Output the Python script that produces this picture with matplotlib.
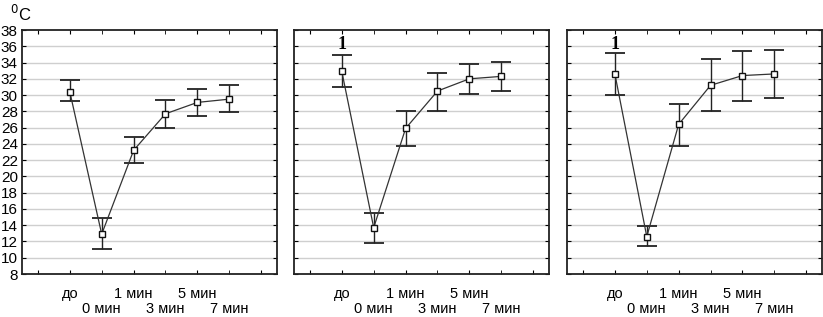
import numpy as np
import matplotlib
matplotlib.use('Agg')
import matplotlib.pyplot as plt

plt.rcParams['font.family'] = ['Liberation Sans', 'DejaVu Sans']

# time points (x index 0..5)
labels = ['до', '0 мин', '1 мин', '3 мин', '5 мин', '7 мин']

# panel 1
mean1 = [30.4, 12.9, 23.2, 27.7, 29.1, 29.5]
upper1 = [31.8, 14.9, 24.9, 29.4, 30.7, 31.2]
lower1 = [29.3, 11.1, 21.6, 25.9, 27.4, 27.9]

# panel 2
mean2 = [32.9, 13.7, 25.9, 30.5, 32.0, 32.3]
upper2 = [34.9, 15.5, 28.0, 32.7, 33.8, 34.1]
lower2 = [31.0, 11.8, 23.8, 28.1, 30.1, 30.5]

# panel 3
mean3 = [32.6, 12.6, 26.4, 31.2, 32.4, 32.6]
upper3 = [35.2, 13.9, 28.9, 34.4, 35.4, 35.6]
lower3 = [30.0, 11.4, 23.8, 28.1, 29.3, 29.6]

panels = [(mean1, upper1, lower1, None),
          (mean2, upper2, lower2, '1'),
          (mean3, upper3, lower3, '1')]

fig = plt.figure(figsize=(8.23, 3.17), dpi=100)
lefts = [0.0267, 0.3572, 0.689]
width = 0.31
bottom, height = 0.1356, 0.7697

x = np.arange(len(labels))
for i, (m, up, lo, note) in enumerate(panels):
    ax = fig.add_axes([lefts[i], bottom, width, height])
    m = np.array(m)
    err = [m - np.array(lo), np.array(up) - m]
    ax.errorbar(x, m, yerr=err, fmt='none', ecolor='#222222', elinewidth=1.0,
                capsize=7.5, capthick=1.3, zorder=3)
    ax.plot(x, m, color='#333333', lw=0.9, zorder=4)
    ax.plot(x, m, 's', ms=5, mfc='white', mec='#111111', mew=1.0, zorder=5)

    ax.set_xlim(-1.5, 6.5)
    ax.set_ylim(8, 38)
    ax.set_yticks(np.arange(8, 39, 2))
    for yv in np.arange(10, 38, 2):
        ax.axhline(yv, color='#cfcfcf', lw=1.0, zorder=1)

    # staggered labels: even positions on the upper row, odd on the lower row
    ax.set_xticks([-1, 0, 2, 4, 6], ['', labels[0], labels[2], labels[4], ''],
                  fontsize=10.5)
    ax.set_xticks([1, 3, 5], [labels[1], labels[3], labels[5]], minor=True,
                  fontsize=10.5)
    ax.tick_params(axis='x', which='major', direction='in', length=3, top=True, pad=9)
    ax.tick_params(axis='x', which='minor', direction='in', length=3, top=True, pad=20)
    ax.tick_params(axis='y', direction='in', length=3, right=True, pad=3)
    if i == 0:
        ax.set_yticklabels([str(v) for v in range(8, 39, 2)], fontsize=11)
    else:
        ax.set_yticklabels([])
    for s in ax.spines.values():
        s.set_linewidth(1.3)
        s.set_color('#222222')
    if note:
        ax.text(0, 36.2, note, ha='center', va='center', fontsize=13,
                fontweight='bold', family='Liberation Serif')

fig.text(0.012, 0.955, '$^0$C', fontsize=12, ha='left', va='center')

fig.savefig('out.png', dpi=100)
